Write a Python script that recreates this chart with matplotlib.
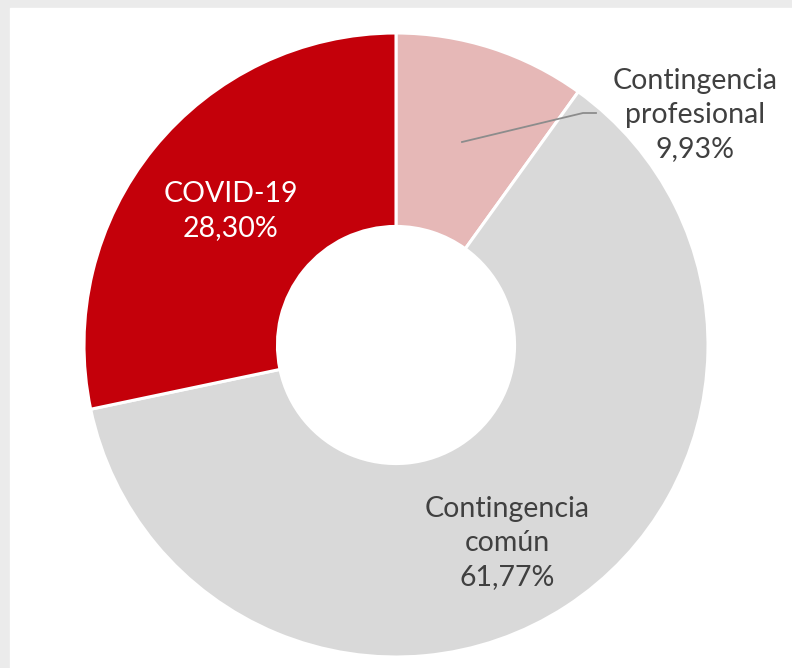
import matplotlib.pyplot as plt
from matplotlib.patches import Rectangle

labels = ['Contingencia\nprofesional', 'Contingencia\ncomún', 'COVID-19']
shares = [9.93, 61.77, 28.30]
colors = ['#e6b8b7', '#d9d9d9', '#c4000a']

plt.rcParams['font.family'] = ['Lato', 'DejaVu Sans']

W, H = 792, 668
fig = plt.figure(figsize=(W / 100, H / 100), dpi=100, facecolor='#ebebeb')
ax = fig.add_axes([0, 0, 1, 1])
ax.set_xlim(0, W)
ax.set_ylim(0, H)
ax.axis('off')
ax.add_patch(Rectangle((10, 0), W - 10, H - 8, color='white', zorder=0))

cx, cy, r = 396, H - 345, 312
ax.pie(shares, colors=colors, startangle=90, counterclock=False,
       center=(cx, cy), radius=r, frame=True,
       wedgeprops=dict(width=r * 0.62, edgecolor='white', linewidth=2.2))
ax.set_xlim(0, W)
ax.set_ylim(0, H)
ax.axis('off')

def pct(v):
    return f'{v:.2f}'.replace('.', ',') + '%'

txt = '#404040'
fs = 20.5
ls = 1.4
ax.text(695, H - 115, f'{labels[0]}\n{pct(shares[0])}', ha='center', va='center',
        fontsize=fs, color=txt, linespacing=ls)
ax.plot([462, 583, 596], [H - 142, H - 113, H - 113], color='#8c8c8c', lw=1.3)
ax.text(507, H - 543, f'{labels[1]}\n{pct(shares[1])}', ha='center', va='center',
        fontsize=fs, color=txt, linespacing=ls)
ax.text(231, H - 211, f'{labels[2]}\n{pct(shares[2])}', ha='center', va='center',
        fontsize=fs, color='white', linespacing=ls)

fig.savefig('out.png', dpi=100, facecolor=fig.get_facecolor())
